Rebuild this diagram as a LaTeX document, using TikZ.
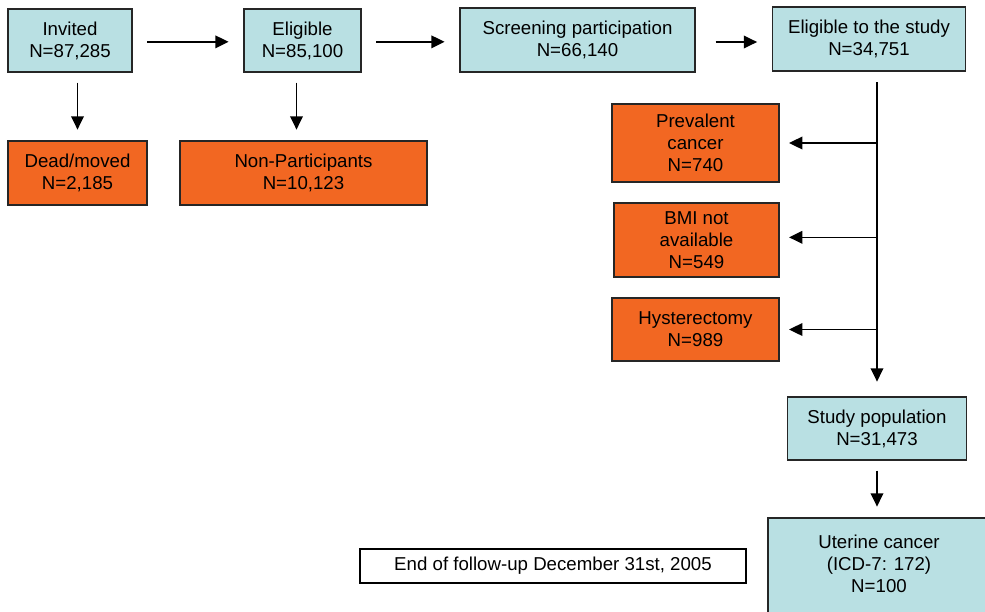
\documentclass[tikz,border=0pt]{standalone}
\usepackage{fontspec}
\setmainfont{Liberation Sans}
\usepackage{tikz}
\usetikzlibrary{positioning,arrows.meta}
\definecolor{flowblue}{RGB}{185,224,227}
\definecolor{floworange}{RGB}{242,103,34}

\begin{document}
\begin{tikzpicture}[x=0.75pt,y=-0.75pt,
    every node/.style={font=\fontsize{14}{16.5}\selectfont, align=center, inner sep=0pt},
    bluebox/.style={draw=black!85, line width=1.1pt, fill=flowblue},
    orangebox/.style={draw=black!85, line width=1.1pt, fill=floworange},
    arr/.style={-{Triangle[length=10pt,width=9.5pt]}, line width=1.2pt, shorten <=11pt, shorten >=11pt}]
    \useasboundingbox (0,0) rectangle (985,611);

    % Top row
    \node[bluebox, minimum width=93pt, minimum height=47.25pt] (invited) at (70,40.5) {Invited\\N=87,285};
    \node[bluebox, minimum width=87.75pt, minimum height=47.25pt] (elig) at (302.5,40.5) {Eligible\\N=85,100};
    \node[bluebox, minimum width=176.25pt, minimum height=48pt] (screen) at (577.5,40) {Screening participation\\N=66,140};
    \node[bluebox, minimum width=144.75pt, minimum height=48pt] (estudy) at (869,39) {Eligible to the study\\N=34,751};

    % Exclusions
    \node[orangebox, minimum width=104.25pt, minimum height=48pt] (dead) at (77.5,173) {Dead/moved\\N=2,185};
    \node[orangebox, minimum width=185.25pt, minimum height=48pt] (nonpart) at (303.5,173) {Non-Participants\\N=10,123};
    \node[orangebox, minimum width=125.25pt, minimum height=58.5pt] (prevalent) at (695.5,143) {Prevalent\\cancer\\N=740};
    \node[orangebox, minimum width=123.75pt, minimum height=55.5pt] (bmi) at (696.5,240) {BMI not\\available\\N=549};
    \node[orangebox, minimum width=125.25pt, minimum height=47.25pt] (hyst) at (695.5,329.5) {Hysterectomy\\N=989};

    % Study population
    \node[bluebox, minimum width=134.25pt, minimum height=47.25pt] (studypop) at (877,428.5) {Study population\\N=31,473};
    \node[bluebox, minimum width=166.5pt, minimum height=76.5pt] (uterine) at (879,569) {Uterine cancer\\(ICD-7: 172)\\N=100\\[-8pt]};
    \node[draw=black, line width=0.8pt, fill=white, minimum width=289.5pt, minimum height=25.5pt] (followup) at (553,566) {End of follow-up December 31st, 2005};

    % Arrows
    \draw[arr] ([yshift=-1pt]invited.east) -- ([yshift=-1pt]elig.west);
    \draw[arr] ([yshift=-1pt]elig.east) -- ([yshift=-1pt]screen.west |- elig.east);
    \draw[arr, shorten <=15pt] ([yshift=-1.5pt]screen.east) -- ([yshift=-1.5pt]estudy.west |- screen.east);
    \draw[arr, shorten <=7.5pt, shorten >=8pt] (invited.south -| dead.north) -- (dead.north);
    \draw[arr, shorten <=7.5pt, shorten >=8pt] ([xshift=-4.5pt]elig.south) -- ([xshift=-4.5pt]elig.south |- nonpart.north);
    \draw[arr, shorten <=8pt] (estudy.south -| studypop.north) -- (studypop.north);
    \draw[arr, shorten <=0pt, shorten >=7pt] (prevalent.east -| studypop.north) -- (prevalent.east);
    \draw[arr, shorten <=0pt, shorten >=7pt] ([yshift=2pt]bmi.east -| studypop.north) -- ([yshift=2pt]bmi.east);
    \draw[arr, shorten <=0pt, shorten >=7pt] (hyst.east -| studypop.north) -- (hyst.east);
    \draw[arr, shorten <=7.5pt, shorten >=8pt] (studypop.south) -- (studypop.south |- uterine.north);
\end{tikzpicture}
\end{document}
